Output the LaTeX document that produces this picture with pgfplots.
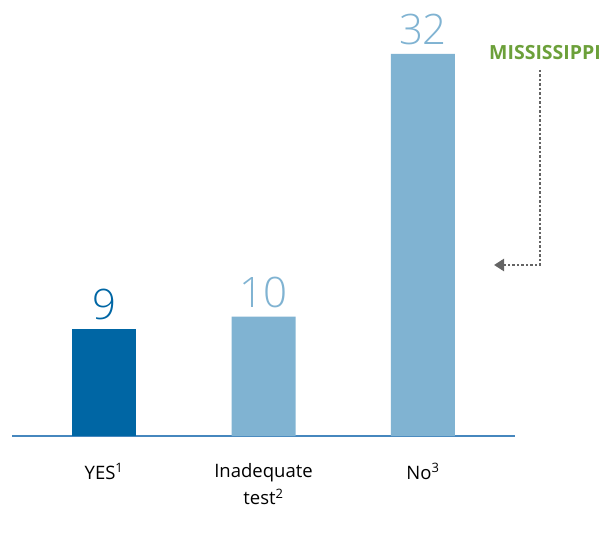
\documentclass[border=0pt]{standalone}
\usepackage{fontspec}
\setmainfont{Open Sans}
\newfontfamily\lightfont{Open Sans Light}
\usepackage{pgfplots}
\pgfplotsset{compat=1.18}
\usetikzlibrary{arrows.meta}

\definecolor{darkblue}{RGB}{0,102,164}
\definecolor{lightblue}{RGB}{128,179,210}
\definecolor{axisblue}{RGB}{70,135,190}
\definecolor{msgreen}{RGB}{108,160,58}
\definecolor{arrowgray}{RGB}{100,100,100}

\begin{document}
\begin{tikzpicture}[x=1pt,y=1pt]
\path[use as bounding box] (0,0) rectangle (602,544);
\begin{axis}[
    at={(12pt,108pt)}, anchor=south west,
    scale only axis,
    width=503pt, height=430pt,
    xmin=-0.577, xmax=2.577,
    ymin=0, ymax=36,
    axis x line=bottom,
    axis y line=none,
    axis line style={axisblue, line width=1.2pt, -},
    xtick={0,1,2},
    xticklabels={YES\textsuperscript{1}, Inadequate\\test\textsuperscript{2}, No\textsuperscript{3}},
    xticklabel style={align=center, font=\fontsize{18.5}{27}\selectfont, yshift=-24pt},
    major tick length=0pt,
    ybar, bar width=64pt,
    bar shift=0pt,
    clip=false,
    /pgf/number format/assume math mode=true,
    nodes near coords,
    nodes near coords style={anchor=base, yshift=9pt, font=\lightfont\fontsize{42}{42}\selectfont},
]
\addplot[fill=darkblue, draw=none, nodes near coords style={text=darkblue}]
    coordinates {(0,9)};
\addplot[fill=lightblue, draw=none, nodes near coords style={text=lightblue}]
    coordinates {(1,10) (2,32)};
\end{axis}
\node[text=msgreen, font=\fontsize{19.5}{19.5}\selectfont\bfseries] at (545,491) {MISSISSIPPI};
\draw[arrowgray, line width=2.5pt, dotted, -{Triangle[length=10pt,width=12pt]}]
    (540,474) -- (540,279) -- (494,279);
\end{tikzpicture}
\end{document}
